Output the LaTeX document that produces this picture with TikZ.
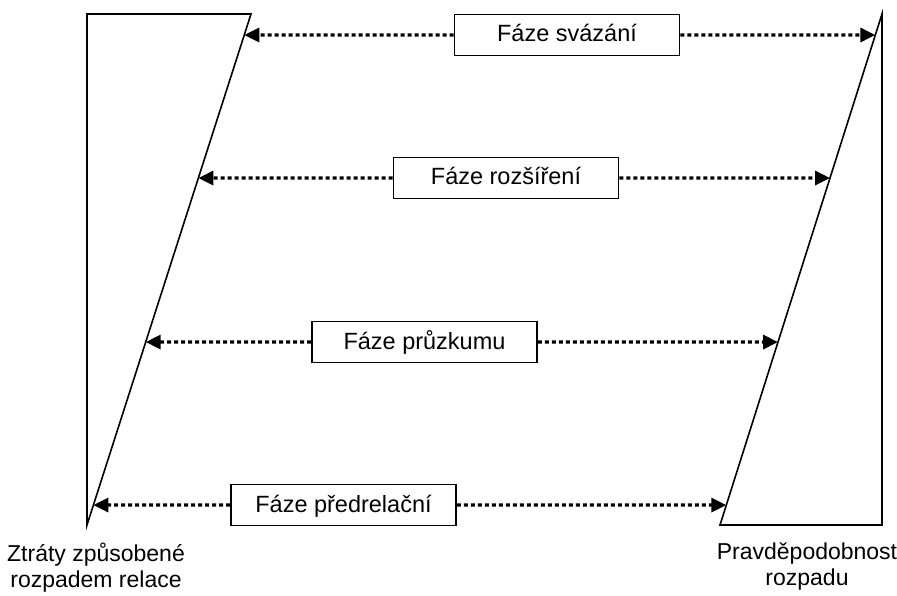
\documentclass[tikz,border=0pt]{standalone}
\usepackage{fontspec}
\setmainfont{Liberation Sans}
\usetikzlibrary{arrows.meta,calc}
\begin{document}
\begin{tikzpicture}[x=1pt,y=-1pt,
  wedge/.style={draw=black,line width=1.6pt,line join=miter},
  phasebox/.style={draw=black,line width=1.6pt,fill=white,minimum width=225pt,minimum height=41pt,inner sep=0pt,text height=14pt,text depth=0pt,font=\fontsize{23.5}{27}\selectfont},
  dotarrow/.style={line width=3.2pt,dash pattern=on 4pt off 3pt,-{Triangle[length=15pt,width=14pt]}},
  caption/.style={align=center,inner sep=0pt,anchor=north,font=\fontsize{23}{26}\selectfont}]
\useasboundingbox (0,0) rectangle (897,596);
% shapes
\coordinate (L1) at (87,14);
\coordinate (L2) at (251,14);
\coordinate (L3) at (87,525);
\coordinate (R1) at (882,14);
\coordinate (R2) at (882,525);
\coordinate (R3) at (720,525);
\draw[wedge] (L1) -- (L2) -- (L3) -- cycle;
\draw[wedge] (R1) -- (R2) -- (R3) -- cycle;
% arrow end points on the slanted sides
\coordinate (la) at ($(L2)!0.0411!(L3)$);
\coordinate (ra) at ($(R1)!0.0411!(R3)$);
\coordinate (lb) at ($(L2)!0.321!(L3)$);
\coordinate (rb) at ($(R1)!0.321!(R3)$);
\coordinate (lc) at ($(L2)!0.642!(L3)$);
\coordinate (rc) at ($(R1)!0.642!(R3)$);
\coordinate (ld) at ($(L2)!0.961!(L3)$);
\coordinate (rd) at ($(R1)!0.961!(R3)$);
% boxes
\node[phasebox] (svazani) at (567,35) {Fáze svázání};
\node[phasebox] (rozsireni) at (506,178) {Fáze rozšíření};
\node[phasebox] (pruzkumu) at (424.5,342) {Fáze průzkumu};
\node[phasebox] (predrelacni) at (343.5,505) {Fáze předrelační};
% arrows
\draw[dotarrow] (svazani.west) -- (la);
\draw[dotarrow] (svazani.east) -- (ra);
\draw[dotarrow] (rozsireni.west) -- (lb);
\draw[dotarrow] (rozsireni.east) -- (rb);
\draw[dotarrow] (pruzkumu.west) -- (lc);
\draw[dotarrow] (pruzkumu.east) -- (rc);
\draw[dotarrow] (predrelacni.west) -- (ld);
\draw[dotarrow] (predrelacni.east) -- (rd);
% captions
\node[caption] (leftcap) at (96,543) {Ztráty způsobené\\rozpadem relace};
\node[caption] (rightcap) at (807,543) {Pravděpodobnost\\rozpadu};
\end{tikzpicture}
\end{document}
